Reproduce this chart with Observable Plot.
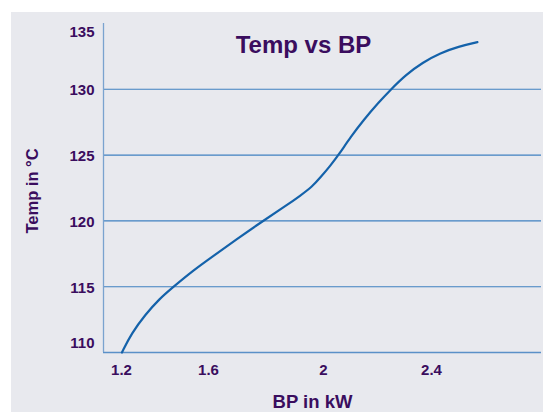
<!DOCTYPE html>
<html><head><meta charset="utf-8">
<script src="https://cdn.jsdelivr.net/npm/d3@7"></script>
<script src="https://cdn.jsdelivr.net/npm/@observablehq/plot@0.6"></script>
<style>
html,body{margin:0;padding:0;background:#fff;}
#chart{position:absolute;left:11px;top:12px;width:532px;height:400px;background:#e8e9ee;}
</style></head><body><div id="chart"></div>
<script>
// Data
const bp   = [1.202, 1.246, 1.310, 1.374, 1.435, 1.526, 1.614, 1.697, 1.784, 1.868, 1.920, 1.961, 1.990, 2.026, 2.057, 2.100, 2.149, 2.205, 2.248, 2.304, 2.367, 2.433, 2.500, 2.570];
const temp = [110.00, 111.45, 112.89, 114.07, 114.94, 116.19, 117.29, 118.59, 119.92, 121.13, 121.93, 122.61, 123.32, 124.21, 125.05, 126.36, 127.68, 129.02, 129.96, 131.09, 132.04, 132.76, 133.25, 133.58];
const xTicks = [1.2, 1.6, 2, 2.4];
const yTicks = [110, 115, 120, 125, 130, 135];
const gridValues = [115, 120, 125, 130];
const xDomain = [1.117, 1.2, 1.6, 2, 2.4, 2.807];
const titleText = "Temp vs BP";
const xLabel = "BP in kW";
const yLabel = "Temp in \u00B0C";

const data = bp.map((b, i) => ({bp: b, temp: temp[i]}));
const ink = "#3a0d5e";
const font = "'Liberation Sans', Arial, sans-serif";
const fmt = d => String(d);

const chart = Plot.plot({
  width: 532,
  height: 400,
  marginTop: 11,
  marginBottom: 60,
  marginLeft: 92,
  marginRight: 2,
  style: {fontFamily: font, background: "transparent", overflow: "visible"},
  x: {type: "linear", domain: xDomain, range: [92, 110, 197, 312, 420, 530], axis: null},
  y: {domain: [yTicks[0], yTicks[yTicks.length - 1]], axis: null},
  marks: [
    Plot.ruleY(gridValues, {stroke: "#3f80c0", strokeWidth: 1.1}),
    Plot.ruleY([yTicks[0]], {stroke: "#5a90c8", strokeWidth: 1.3}),
    Plot.ruleX([xDomain[0]], {stroke: "#7aa3cf", strokeWidth: 1.3}),
    Plot.line(data, {x: "bp", y: "temp", curve: "basis", stroke: "#1462aa", strokeWidth: 2.2}),
    Plot.axisX(xTicks, {tickSize: 0, tickPadding: 12, tickFormat: fmt, fontSize: 15, fontWeight: "bold", fill: ink, label: null}),
    Plot.axisY(yTicks.slice(1, -1), {tickSize: 0, tickPadding: 9, dy: 1, tickFormat: fmt, fontSize: 15, fontWeight: "bold", fill: ink, label: null}),
    Plot.axisY([yTicks[0]], {tickSize: 0, tickPadding: 9, dy: -9, tickFormat: fmt, fontSize: 15, fontWeight: "bold", fill: ink, label: null}),
    Plot.axisY([yTicks[yTicks.length - 1]], {tickSize: 0, tickPadding: 9, dy: 9, tickFormat: fmt, fontSize: 15, fontWeight: "bold", fill: ink, label: null}),
    Plot.text([titleText], {frameAnchor: "top", dx: -19, dy: 22, lineAnchor: "middle", textAnchor: "middle", fontSize: 24, fontWeight: "bold", fill: ink}),
    Plot.text([xLabel], {frameAnchor: "bottom", dx: -10, dy: 50, lineAnchor: "middle", textAnchor: "middle", fontSize: 18.5, fontWeight: "bold", fill: ink}),
    Plot.text([yLabel], {frameAnchor: "left", dx: -71, dy: 3, rotate: -90, lineAnchor: "middle", textAnchor: "middle", fontSize: 16.5, fontWeight: "bold", fill: ink})
  ]
});
document.getElementById("chart").appendChild(chart);
</script></body></html>
